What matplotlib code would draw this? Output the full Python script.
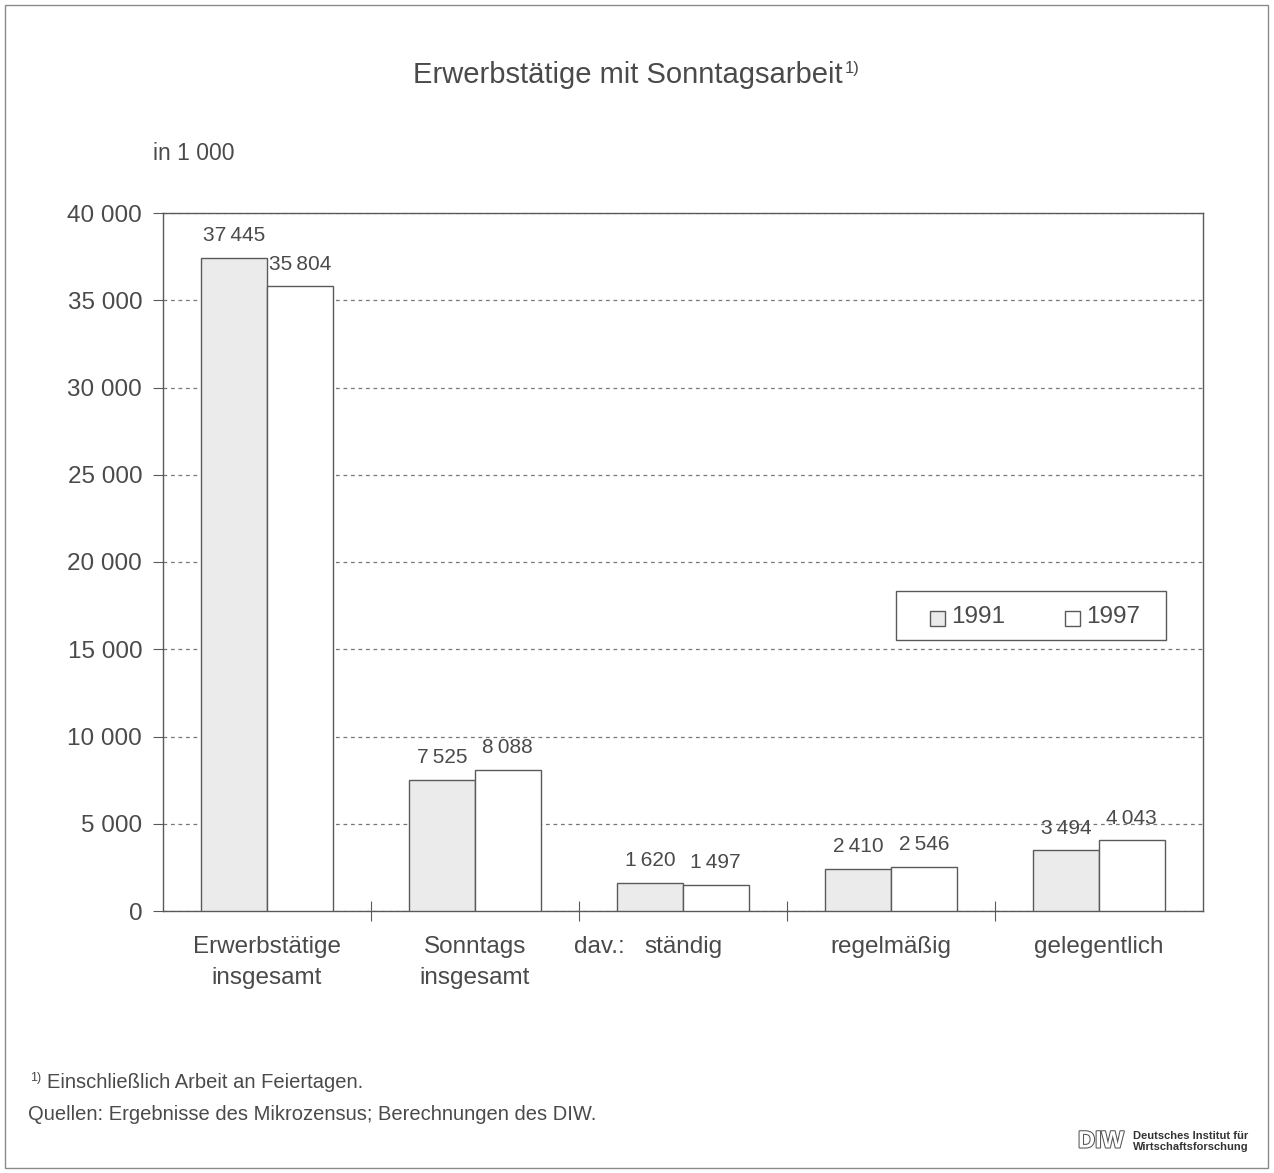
import matplotlib.pyplot as plt
import matplotlib.patheffects as pe
from matplotlib.patches import Rectangle
import numpy as np

plt.rcParams["font.family"] = ["Liberation Sans", "DejaVu Sans"]

# data (in 1 000)
categories = ["Erwerbstätige\ninsgesamt", "Sonntags\ninsgesamt", "ständig", "regelmäßig", "gelegentlich"]
values_1991 = [37445, 7525, 1620, 2410, 3494]
values_1997 = [35804, 8088, 1497, 2546, 4043]
years = ["1991", "1997"]
yticks = [0, 5000, 10000, 15000, 20000, 25000, 30000, 35000, 40000]

TXT = "#4a4a4a"
EDGE = "#5a5a5a"
GRAY = "#ebebeb"
W, H = 1274, 1173


def fmt(v, sep=" "):
    return f"{v:,}".replace(",", sep)


def fx(px):
    return px / W


def fy(py):
    return 1 - py / H


fig = plt.figure(figsize=(12.74, 11.73), dpi=100)
ax = fig.add_axes([fx(163), fy(911), 1040 / W, 698 / H])

x = np.arange(len(categories)) + 0.5
w = 0.315
b1 = ax.bar(x - w / 2, values_1991, w, color=GRAY, edgecolor=EDGE, linewidth=1.0, zorder=3)
b2 = ax.bar(x + w / 2, values_1997, w, color="white", edgecolor=EDGE, linewidth=1.0, zorder=3)

for bars, vals in ((b1, values_1991), (b2, values_1997)):
    for rect, v in zip(bars, vals):
        ax.annotate(fmt(v, "\u2009"), (rect.get_x() + rect.get_width() / 2, v),
                    xytext=(0, 9), textcoords="offset points",
                    ha="center", va="bottom", fontsize=15, color=TXT)

ax.set_xlim(0, len(categories))
ax.set_ylim(0, 40000)
ax.set_yticks(yticks)
ax.set_yticklabels([fmt(t) for t in yticks], fontsize=17.5, color=TXT)
ax.tick_params(axis="y", direction="out", length=7, color=EDGE, pad=8)
ax.set_xticks(np.arange(1, len(categories)))
ax.set_xticklabels([])
ax.tick_params(axis="x", direction="inout", length=14, color=EDGE)

ax.yaxis.grid(True, linestyle=(0, (3, 3)), color="#777777", linewidth=0.9)
ax.set_axisbelow(True)
for sp in ax.spines.values():
    sp.set_color(EDGE)
    sp.set_linewidth(1.0)

# category labels
for xi, lab in zip(x, categories):
    ax.text(xi, -1450, lab, ha="center", va="top", fontsize=17.5, color=TXT,
            linespacing=1.5)
ax.text(2.22, -1450, "dav.:", ha="right", va="top", fontsize=17.5, color=TXT)

fig.text(fx(153), fy(153), "in 1 000", ha="left", va="center", fontsize=16.5, color=TXT)

# legend box drawn by hand to match the original spacing
fig.patches.append(Rectangle((fx(896), fy(640)), 270 / W, 49 / H, transform=fig.transFigure,
                             facecolor="white", edgecolor=EDGE, linewidth=1.0, zorder=5))
for (px, col), year in zip(((930, GRAY), (1065, "white")), years):
    fig.patches.append(Rectangle((fx(px), fy(626)), 15 / W, 15 / H, transform=fig.transFigure,
                                 facecolor=col, edgecolor=EDGE, linewidth=1.0, zorder=6))
    fig.text(fx(px + 21), fy(617), year, ha="left", va="center", fontsize=17.5,
             color=TXT, zorder=6)

fig.text(fx(413), fy(75), "Erwerbstätige mit Sonntagsarbeit", ha="left",
         va="center", fontsize=21, color=TXT)
fig.text(fx(845), fy(68), "1)", ha="left", va="center", fontsize=12, color=TXT)

fig.text(fx(30), fy(1078), "1)", ha="left", va="center", fontsize=9, color=TXT)
fig.text(fx(47), fy(1083), "Einschließlich Arbeit an Feiertagen.",
         ha="left", va="center", fontsize=14.5, color=TXT)
fig.text(fx(28), fy(1115), "Quellen: Ergebnisse des Mikrozensus; Berechnungen des DIW.",
         ha="left", va="center", fontsize=14.5, color=TXT)

# DIW logo
fig.text(fx(1078), fy(1141), "DIW", ha="left", va="center", fontsize=17,
         color="white", fontweight="bold",
         path_effects=[pe.withStroke(linewidth=1.5, foreground="#555555")])
fig.text(fx(1133), fy(1136), "Deutsches Institut für", ha="left", va="center",
         fontsize=8, color="#333333", fontweight="bold")
fig.text(fx(1133), fy(1147), "Wirtschaftsforschung", ha="left", va="center",
         fontsize=8, color="#333333", fontweight="bold")

fig.patches.append(Rectangle((fx(5), 5 / H), 1263 / W, 1163 / H,
                             transform=fig.transFigure, fill=False, edgecolor="#8a8a8a",
                             linewidth=1.0))

fig.savefig("out.png", dpi=100)
